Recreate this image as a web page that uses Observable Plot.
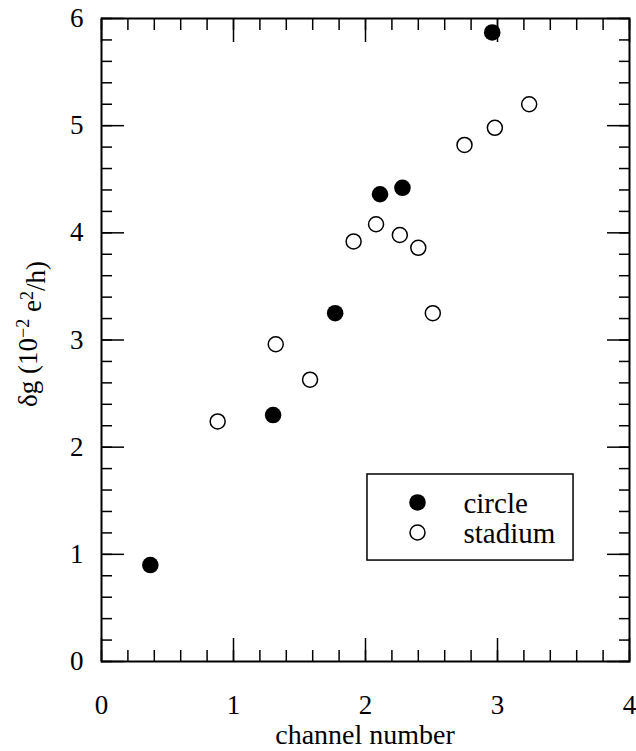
<!DOCTYPE html>
<html>
<head>
<meta charset="utf-8">
<script src="https://cdn.jsdelivr.net/npm/d3@7"></script>
<script src="https://cdn.jsdelivr.net/npm/@observablehq/plot@0.6"></script>
<style>
  body { margin: 0; background: white; }
  #chart svg { display: block; }
</style>
</head>
<body>
<div id="chart"></div>
<script>
const circleX = [0.37, 1.30, 1.77, 2.11, 2.28, 2.96];
const circleY = [0.90, 2.30, 3.25, 4.36, 4.42, 5.87];
const stadiumX = [0.88, 1.32, 1.58, 1.91, 2.08, 2.26, 2.40, 2.51, 2.75, 2.98, 3.24];
const stadiumY = [2.24, 2.96, 2.63, 3.92, 4.08, 3.98, 3.86, 3.25, 4.82, 4.98, 5.20];
const xTicks = [0, 1, 2, 3, 4];
const yTicks = [0, 1, 2, 3, 4, 5, 6];
const xMinor = d3.range(0, 4.0001, 0.2).map(v => +v.toFixed(1));
const yMinor = d3.range(0, 6.0001, 0.2).map(v => +v.toFixed(1));
const legendLabels = ["circle", "stadium"];
const xLabel = "channel number";

const circles = circleX.map((x, i) => ({x, y: circleY[i]}));
const stadiums = stadiumX.map((x, i) => ({x, y: stadiumY[i]}));

const font = "Liberation Serif, Times New Roman, serif";
const noText = () => "";
const intFmt = d3.format("d");

const plot = Plot.plot({
  width: 636,
  height: 751,
  marginLeft: 101,
  marginRight: 7,
  marginTop: 18,
  marginBottom: 90,
  style: {fontFamily: font, fontSize: "27px", color: "black", background: "white", overflow: "visible"},
  x: {domain: [0, 4]},
  y: {domain: [0, 6]},
  marks: [
    // minor ticks, all four sides
    Plot.axisX(xMinor, {anchor: "bottom", tickSize: -11, tickFormat: noText, label: null, strokeWidth: 1.5}),
    Plot.axisX(xMinor, {anchor: "top", tickSize: -11, tickFormat: noText, label: null, strokeWidth: 1.5}),
    Plot.axisY(yMinor, {anchor: "left", tickSize: -11, tickFormat: noText, label: null, strokeWidth: 1.5}),
    Plot.axisY(yMinor, {anchor: "right", tickSize: -11, tickFormat: noText, label: null, strokeWidth: 1.5}),
    // major ticks
    Plot.axisX(xTicks, {anchor: "bottom", tickSize: -23, tickFormat: noText, label: null, strokeWidth: 1.5}),
    Plot.axisX(xTicks, {anchor: "top", tickSize: -23, tickFormat: noText, label: null, strokeWidth: 1.5}),
    Plot.axisY(yTicks, {anchor: "left", tickSize: -23, tickFormat: noText, label: null, strokeWidth: 1.5}),
    Plot.axisY(yTicks, {anchor: "right", tickSize: -23, tickFormat: noText, label: null, strokeWidth: 1.5}),
    // tick labels
    Plot.axisX(xTicks, {anchor: "bottom", tickSize: 0, tickPadding: 33, tickFormat: intFmt, label: null, fontSize: 27}),
    Plot.axisY(yTicks, {anchor: "left", tickSize: 0, tickPadding: 18, tickFormat: intFmt, label: null, fontSize: 27}),
    Plot.frame({stroke: "black", strokeWidth: 2}),
    // data
    Plot.dot(stadiums, {x: "x", y: "y", r: 7.5, stroke: "black", strokeWidth: 1.5, fill: "white"}),
    Plot.dot(circles, {x: "x", y: "y", r: 8.3, fill: "black", stroke: "none"}),
    // legend
    Plot.rect([0], {x1: 2.015, x2: 3.576, y1: 0.942, y2: 1.745, fill: "white", stroke: "black", strokeWidth: 1.5}),
    Plot.dot([0], {x: 2.394, y: 1.484, r: 8.3, fill: "black"}),
    Plot.dot([0], {x: 2.394, y: 1.204, r: 7.5, stroke: "black", strokeWidth: 1.5, fill: "white"}),
    Plot.text([legendLabels[0]], {x: 2.742, y: 1.484, text: d => d, textAnchor: "start", fontSize: 29, fill: "black", dy: 1}),
    Plot.text([legendLabels[1]], {x: 2.742, y: 1.204, text: d => d, textAnchor: "start", fontSize: 29, fill: "black", dy: 1})
  ]
});

document.getElementById("chart").appendChild(plot);

const svg = d3.select(plot);
// x-axis title
svg.append("text")
  .attr("x", 365).attr("y", 744)
  .attr("text-anchor", "middle")
  .attr("font-family", font)
  .attr("font-size", 28)
  .attr("fill", "black")
  .text(xLabel);

// y-axis title with superscripts
const t = svg.append("text")
  .attr("transform", "translate(37,334) rotate(-90)")
  .attr("text-anchor", "middle")
  .attr("font-family", font)
  .attr("font-size", 27)
  .attr("fill", "black");
t.append("tspan").text("δg (10");
t.append("tspan").attr("dy", "-0.45em").attr("font-size", 18).text("−2");
t.append("tspan").attr("dy", "0.45em").text(" e");
t.append("tspan").attr("dy", "-0.45em").attr("font-size", 18).text("2");
t.append("tspan").attr("dy", "0.45em").text("/h)");
</script>
</body>
</html>
